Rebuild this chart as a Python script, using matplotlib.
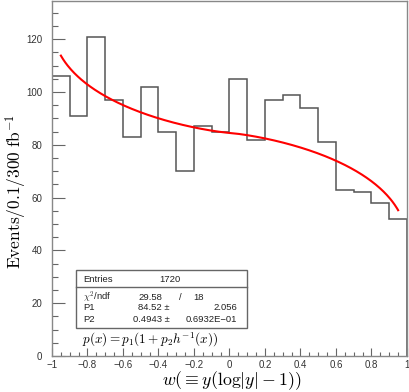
import numpy as np
import matplotlib
matplotlib.use("Agg")
import matplotlib.pyplot as plt
from matplotlib.patches import Rectangle
from matplotlib.lines import Line2D

plt.rcParams['mathtext.fontset'] = 'cm'
plt.rcParams['font.family'] = ['Liberation Sans', 'DejaVu Sans']

# histogram: 20 bins of 0.1 on [-1, 1]
bin_edges = np.linspace(-1, 1, 21)
counts = [106, 91, 121, 97, 83, 102, 85, 70, 87, 85,
          105, 82, 97, 99, 94, 81, 63, 62, 58, 52]

# fit result shown in the stats box
entries = 1720
chi2, ndf = 29.58, 18
p1, p1_err = 84.52, 2.056
p2, p2_err = 0.4943, 0.06932
fit_range = (-0.95, 0.95)

# h(y) = y(log|y| - 1), inverted numerically
yy = np.linspace(-1, 1, 4001)
with np.errstate(divide='ignore', invalid='ignore'):
    hh = np.where(yy == 0, 0.0, yy * (np.log(np.abs(yy)) - 1))
xf = np.linspace(fit_range[0], fit_range[1], 300)
hinv = np.interp(xf, hh[::-1], yy[::-1])
pf = p1 * (1 + p2 * hinv)

W, H = 409, 392
fig = plt.figure(figsize=(W / 100, H / 100), dpi=100)
ax = fig.add_axes([52 / W, 1 - 356 / H, 355 / W, 355 / H])

ax.stairs(counts, bin_edges, color='#555555', lw=1.1)
ax.plot(xf, pf, color='red', lw=1.5)

ax.set_xlim(-1, 1)
ax.set_ylim(0, 134.5)
ax.set_xticks(np.arange(-1, 1.01, 0.2))
ax.set_xticklabels(['\u22121', '\u22120.8', '\u22120.6', '\u22120.4', '\u22120.2',
                    '0', '0.2', '0.4', '0.6', '0.8', '1'])
ax.set_xticks(np.arange(-1, 1.001, 0.05), minor=True)
ax.set_yticks(np.arange(0, 121, 20))
ax.set_yticks(np.arange(0, 135, 5), minor=True)
ax.tick_params(which='both', direction='in', colors='#666666', labelcolor='#333333',
               labelsize=7, width=0.8)
ax.tick_params(axis='x', which='major', length=6, pad=3)
ax.tick_params(axis='x', which='minor', length=3)
ax.tick_params(axis='y', which='major', length=9, pad=7)
ax.tick_params(axis='y', which='minor', length=4)
for s in ax.spines.values():
    s.set_color('#888888')
    s.set_linewidth(1.0)

fig.text(16 / W, 1 - 192 / H, r'$\mathrm{Events/0.1/300\ fb}^{-1}$', rotation=90,
         ha='center', va='center', fontsize=12.5)
fig.text(232 / W, 1 - 381 / H, r'$w(\equiv y(\log|y|-1))$', ha='center', va='center',
         fontsize=12.8)

# stats box
bx0, bx1, by0, by1 = 76, 247, 270, 328
fig.patches.append(Rectangle((bx0 / W, 1 - by1 / H), (bx1 - bx0) / W, (by1 - by0) / H,
                             transform=fig.transFigure, fill=True, facecolor='white',
                             edgecolor='#666666', lw=1.0))
fig.lines.append(Line2D([bx0 / W, bx1 / W], [1 - 287 / H, 1 - 287 / H],
                        transform=fig.transFigure, color='#666666', lw=1.0))
fs = 6.8
tc = '#222222'
fig.text(83 / W, 1 - 279 / H, 'Entries', fontsize=fs, va='center', color=tc)
fig.text(170 / W, 1 - 279 / H, str(entries), fontsize=fs, va='center', ha='center', color=tc)
fig.text(83 / W, 1 - 297 / H, r'$\chi^2$/ndf', fontsize=fs, va='center', color=tc)
fig.text(150 / W, 1 - 297 / H, '%.2f' % chi2, fontsize=fs, va='center', ha='center', color=tc)
fig.text(180 / W, 1 - 297 / H, '/', fontsize=fs, va='center', ha='center', color=tc)
fig.text(199 / W, 1 - 297 / H, str(ndf), fontsize=fs, va='center', ha='center', color=tc)
fig.text(83 / W, 1 - 308 / H, 'P1', fontsize=fs, va='center', color=tc)
fig.text(170 / W, 1 - 308 / H, '%.2f \u00b1' % p1, fontsize=fs, va='center', ha='right', color=tc)
fig.text(237 / W, 1 - 308 / H, '%.3f' % p1_err, fontsize=fs, va='center', ha='right', color=tc)
fig.text(83 / W, 1 - 319 / H, 'P2', fontsize=fs, va='center', color=tc)
fig.text(170 / W, 1 - 319 / H, '%.4f \u00b1' % p2, fontsize=fs, va='center', ha='right', color=tc)
fig.text(237 / W, 1 - 319 / H, '0.6932E\u221201', fontsize=fs, va='center', ha='right', color=tc)

fig.text(82 / W, 1 - 340 / H, r'$p(x) = p_1(1+p_2h^{-1}(x))$', fontsize=9.5, va='center')

fig.savefig('out.png', dpi=100)
